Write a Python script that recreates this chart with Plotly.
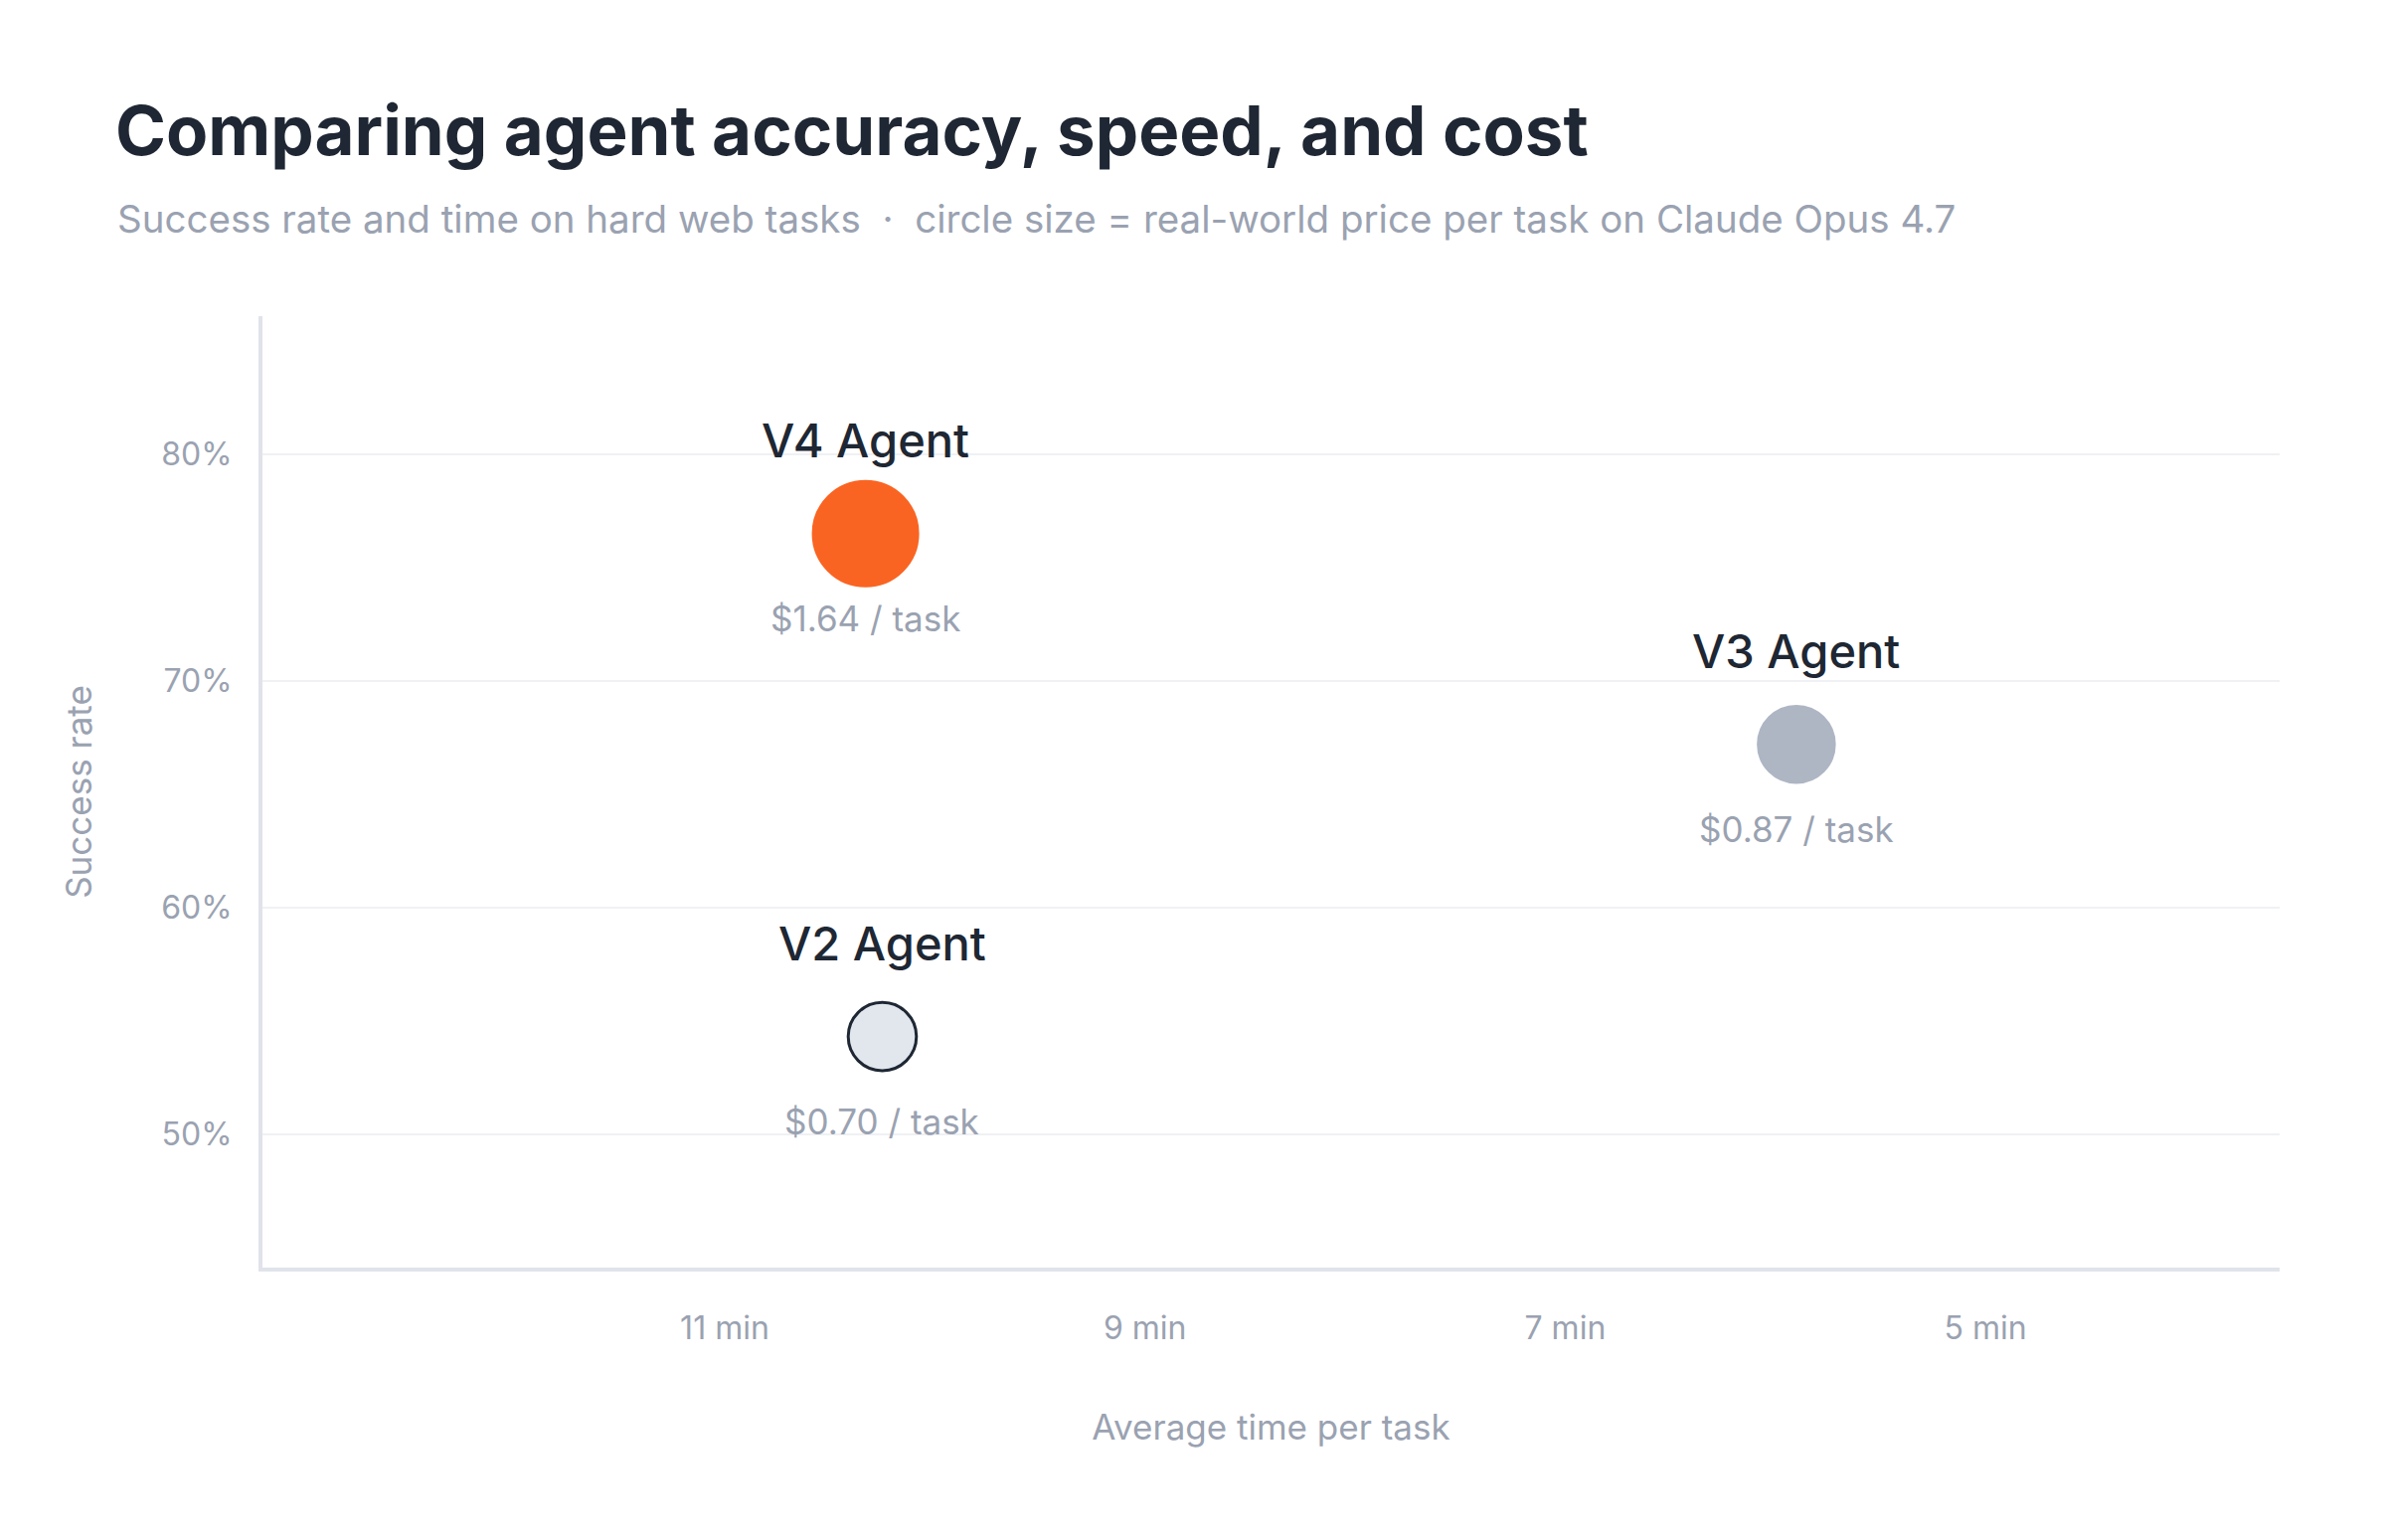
import numpy as np
import plotly.graph_objects as go

agents = ["V2 Agent", "V3 Agent", "V4 Agent"]
minutes = [10.25, 5.9, 10.33]
success = [54.3, 67.2, 76.5]
price = [0.70, 0.87, 1.64]
colors = ["#e2e6ed", "#aeb6c4", "#fa6422"]
borders = ["#1e2733", "#aeb6c4", "#fa6422"]

x_ticks = [11, 9, 7, 5]
y_ticks = [50, 60, 70, 80]

dark = "#1e2733"
grey = "#9aa2b1"
font = "Inter"

fig = go.Figure()
fig.add_trace(go.Scatter(
    x=minutes, y=success, mode="markers",
    marker=dict(size=[82 * np.sqrt(p) for p in price], color=colors,
                line=dict(color=borders, width=3), opacity=1),
    hoverinfo="skip", showlegend=False,
))

for name, mx, sy, p in zip(agents, minutes, success, price):
    fig.add_annotation(x=mx, y=sy, text=name, showarrow=False, yshift=94,
                       font=dict(family=font, size=47, color=dark, weight=500))
    fig.add_annotation(x=mx, y=sy, text=f"${p:.2f} / task", showarrow=False, yshift=-85,
                       font=dict(family=font, size=35, color=grey))

fig.add_annotation(xref="paper", yref="paper", x=-0.073, y=1.102, xanchor="left", yanchor="middle",
                   text="Success rate and time on hard web tasks  ·  circle size = real-world price per task on Claude Opus 4.7",
                   showarrow=False, font=dict(family=font, size=38.5, color=grey))

fig.update_layout(
    width=2400, height=1549,
    paper_bgcolor="white", plot_bgcolor="white",
    margin=dict(l=256, r=115, t=310, b=282),
    title=dict(text="<b>Comparing agent accuracy, speed, and cost</b>", xref="container", x=0.045,
               xanchor="left", y=1 - 124 / 1549, yanchor="middle",
               font=dict(family=font, size=69, color=dark)),
    font=dict(family=font, color=grey),
)
fig.update_xaxes(range=[13.2, 3.6], tickvals=x_ticks, ticktext=[f"{t} min" for t in x_ticks],
                 showgrid=False, zeroline=False, showline=True, linecolor="#e0e3ea", linewidth=4,
                 ticks="outside", ticklen=30, tickcolor="white",
                 tickfont=dict(size=32, color=grey),
                 title=dict(text="Average time per task", standoff=70, font=dict(size=35, color=grey)))
fig.update_yaxes(range=[44.1, 86.1], tickvals=y_ticks, ticktext=[f"{t}%" for t in y_ticks],
                 showgrid=True, gridcolor="#f0f1f4", gridwidth=2, zeroline=False,
                 showline=True, linecolor="#e0e3ea", linewidth=4,
                 ticks="outside", ticklen=20, tickcolor="white",
                 tickfont=dict(size=32, color=grey),
                 title=dict(text="Success rate", standoff=60, font=dict(size=35, color=grey)))

fig.write_html("out.html")
